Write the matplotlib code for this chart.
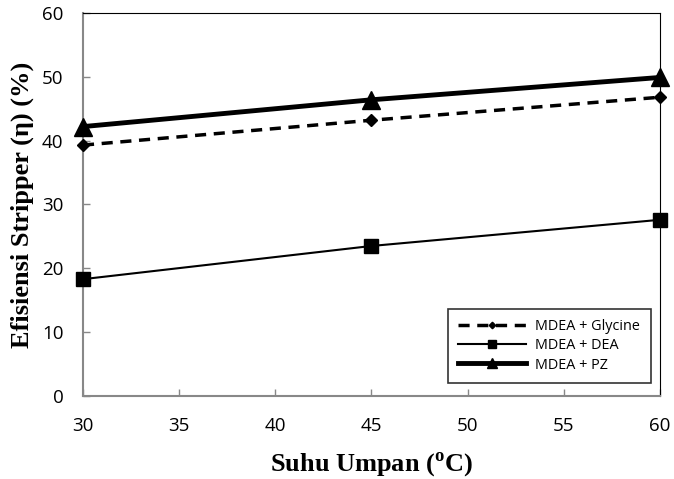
import matplotlib
matplotlib.use("Agg")
import matplotlib.pyplot as plt

# feed temperature (oC) and stripper efficiency (%)
suhu = [30, 45, 60]
glycine = [39.3, 43.2, 46.8]
dea = [18.3, 23.5, 27.6]
pz = [42.2, 46.4, 49.9]

plt.rcParams["mathtext.fontset"] = "custom"
plt.rcParams["mathtext.rm"] = "Liberation Serif:bold"
plt.rcParams["mathtext.bf"] = "Liberation Serif:bold"

fig = plt.figure(figsize=(6.74, 4.79), dpi=100)
ax = fig.add_axes([0.1231, 0.1733, 0.979 - 0.1231, 0.9729 - 0.1733])

ax.plot(suhu, glycine, color="black", lw=2.5, ls=(0, (3.2, 2.2)), marker="D",
        ms=6, label="MDEA + Glycine", clip_on=False, zorder=3)
ax.plot(suhu, dea, color="black", lw=1.5, marker="s", ms=10,
        label="MDEA + DEA", clip_on=False, zorder=3)
ax.plot(suhu, pz, color="black", lw=3.5, marker="^", ms=13,
        label="MDEA + PZ", clip_on=False, zorder=3)

ax.set_xlim(30, 60)
ax.set_ylim(0, 60)
ax.set_xticks(range(30, 61, 5))
ax.set_yticks(range(0, 61, 10))
ax.tick_params(direction="in", color="#888888", length=5, width=1,
               labelsize=13.5)
ax.tick_params(axis="x", pad=15)
ax.tick_params(axis="y", pad=14)
for lab in ax.get_xticklabels() + ax.get_yticklabels():
    lab.set_family("Open Sans")
ax.spines["left"].set_color("#888888")
ax.spines["bottom"].set_color("#888888")
ax.spines["left"].set_linewidth(1.5)
ax.spines["bottom"].set_linewidth(1.5)
ax.spines["top"].set_color("black")
ax.spines["right"].set_color("black")

ax.set_xlabel(r"Suhu Umpan ($^{\mathrm{o}}$C)", family="Liberation Serif",
              fontweight="bold", fontsize=19, labelpad=11)
ax.set_ylabel("Efisiensi Stripper (η) (%)", family="Liberation Serif",
              fontweight="bold", fontsize=19, labelpad=6)

leg = ax.legend(loc="lower left", bbox_to_anchor=(0.632, 0.033),
                prop={"family": "Open Sans", "size": 10.4}, frameon=True,
                fancybox=False, edgecolor="black", markerscale=0.55,
                handlelength=4.7, borderpad=0.75, labelspacing=0.28,
                handletextpad=0.6, borderaxespad=0)
leg.get_frame().set_linewidth(1.2)

fig.savefig("out.png", dpi=100)
